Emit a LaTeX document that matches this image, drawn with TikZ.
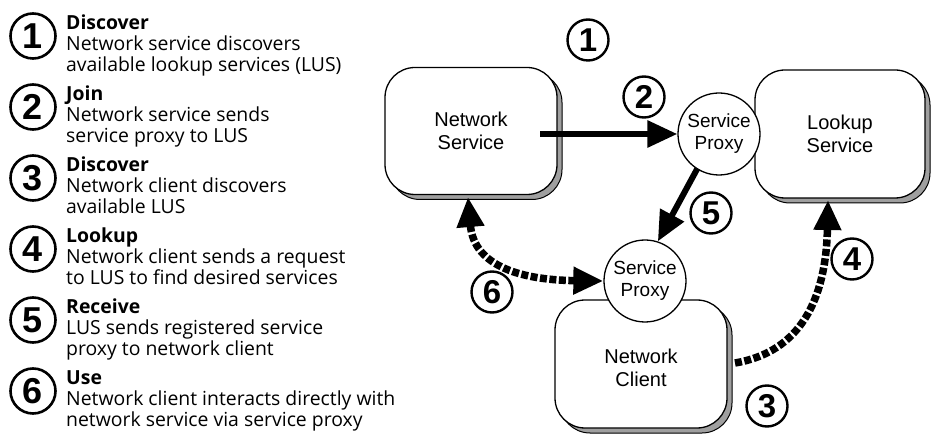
\documentclass[tikz,border=0pt]{standalone}
\usepackage{fontspec}
\setmainfont{Open Sans}
\newfontfamily\diafont{Liberation Sans}
\usetikzlibrary{arrows.meta,shadows}
\tikzset{
  legnum/.style={circle,draw,line width=2.6pt,minimum size=45pt,inner sep=0pt,font=\diafont\bfseries\fontsize{36}{36}\selectfont},
  dianum/.style={circle,draw,line width=2.4pt,minimum size=41pt,inner sep=0pt,font=\diafont\bfseries\fontsize{33}{33}\selectfont},
  legtext/.style={anchor=north west,align=left,inner sep=0pt,font=\fontsize{19.4}{21}\selectfont},
  box/.style={draw,line width=1.3pt,fill=white,rounded corners=30pt,align=center,
    font=\diafont\fontsize{20}{23}\selectfont,
    drop shadow={shadow xshift=5pt,shadow yshift=-5pt,fill=gray!75,draw=black,line width=1pt,opacity=1}},
  proxy/.style={circle,draw,line width=1.3pt,fill=white,minimum size=82pt,inner sep=0pt,align=center,
    font=\diafont\fontsize{19}{22}\selectfont},
  solidarrow/.style={line width=6pt,-{Triangle[length=30pt,width=26pt]}},
  dasharrow/.style={line width=7.5pt,dash pattern=on 7pt off 2.5pt}
}
\begin{document}
\begin{tikzpicture}[x=1pt,y=-1pt]
\useasboundingbox[fill=white] (0,0) rectangle (934,435);
% legend
\node[legnum] (l1) at (33,36) {1};
\node[legnum] (l2) at (33,107) {2};
\node[legnum] (l3) at (33,178) {3};
\node[legnum] (l4) at (33,249) {4};
\node[legnum] (l5) at (33,320) {5};
\node[legnum] (l6) at (33,391) {6};
\node[legtext] (t1) at (66,15) {\textbf{Discover}\\Network service discovers\\available lookup services (LUS)};
\node[legtext] (t2) at (66,86) {\textbf{Join}\\Network service sends\\service proxy to LUS};
\node[legtext] (t3) at (66,157) {\textbf{Discover}\\Network client discovers\\available LUS};
\node[legtext] (t4) at (66,228) {\textbf{Lookup}\\Network client sends a request\\to LUS to find desired services};
\node[legtext] (t5) at (66,299) {\textbf{Receive}\\LUS sends registered service\\proxy to network client};
\node[legtext] (t6) at (66,370) {\textbf{Use}\\Network client interacts directly with\\network service via service proxy};
% boxes
\node[box,minimum width=172pt,minimum height=127pt] (ns) at (471,131) {Network\\Service};
\node[box,minimum width=170pt,minimum height=128pt] (ls) at (840,134) {Lookup\\Service};
\node[box,minimum width=172pt,minimum height=128pt] (nc) at (641,364) {\\Network\\Client};
\node[proxy] (tp) at (719,134) {Service\\Proxy};
\node[proxy] (bp) at (645,281) {Service\\Proxy};
% numbers
\node[dianum] (d1) at (588,40) {1};
\node[dianum] (d2) at (644,97) {2};
\node[dianum] (d5) at (711,213) {5};
\node[dianum] (d4) at (852,259) {4};
\node[dianum] (d6) at (492,292) {6};
\node[dianum] (d3) at (767,406) {3};
% arrows
\coordinate (s2) at (540,134);
\draw[solidarrow] (s2) -- (tp.west);
\draw[solidarrow,shorten <=-1pt] (tp.-122) -- (bp.72);
\coordinate (a6) at (468,197);
\draw[dasharrow,{Triangle[length=30pt,width=26pt]}-{Triangle[length=30pt,width=26pt]}] (a6) .. controls (474,268) and (525,280) .. (bp.west);
\coordinate (a4s) at (735,363);
\coordinate (a4e) at (828,200);
\draw[dasharrow,-{Triangle[length=30pt,width=26pt]}] (a4s) .. controls (800,352) and (826,300) .. (a4e);
\end{tikzpicture}
\end{document}
